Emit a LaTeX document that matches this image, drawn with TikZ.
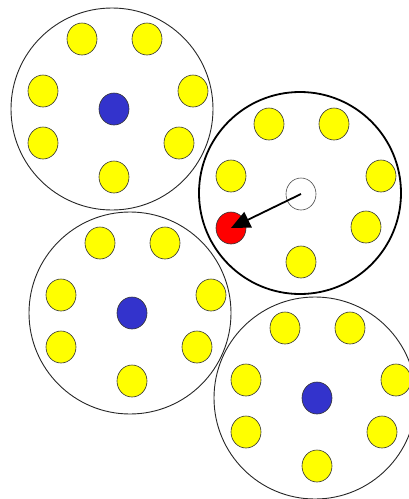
\documentclass[tikz,border=0pt]{standalone}
\usetikzlibrary{shapes.geometric,arrows.meta}
\definecolor{dotyellow}{RGB}{255,255,0}
\definecolor{dotblue}{RGB}{51,51,204}
\definecolor{dotred}{RGB}{255,0,0}
\tikzset{
  ring/.style={circle,draw=black!85,line width=0.9pt,minimum size=202pt,inner sep=0pt},
  thickring/.style={circle,draw=black,line width=1.8pt,minimum size=202pt,inner sep=0pt},
  dot/.style={ellipse,draw=black!80,line width=0.6pt,minimum width=30pt,minimum height=32pt,inner sep=0pt},
  yel/.style={dot,fill=dotyellow},
  bluedot/.style={dot,fill=dotblue},
  reddot/.style={dot,fill=dotred},
  hollow/.style={dot,fill=white,draw=black!70},
  movearrow/.style={-{Triangle[length=19pt,width=17pt]},line width=1.8pt}
}
\begin{document}
\begin{tikzpicture}[x=1pt,y=-1pt]
\useasboundingbox (0,0) rectangle (409,499);
\clip (0,0) rectangle (409,499);
% three ordinary cells
\foreach \n/\bx/\by in {a/114/109, c/132/313, d/317/398} {
  \node[ring] (\n-ring) at ({\bx-2},{\by}) {};
  \node[bluedot] (\n-c) at (\bx,\by) {};
  \foreach \i/\dx/\dy in {1/-32/-70, 2/33/-70, 3/-71/-18, 4/79/-18, 5/-71/34, 6/65/34, 7/0/68} {
    \node[yel] (\n-\i) at ({\bx+\dx},{\by+\dy}) {};
  }
}
% highlighted cell
\node[thickring] (b-ring) at (300,193) {};
\node[hollow] (b-c) at (301,194) {};
\foreach \i/\dx/\dy in {1/-32/-70, 2/33/-70, 3/-70/-18, 4/80/-18, 6/65/33, 7/0/68} {
  \node[yel] (b-\i) at ({301+\dx},{194+\dy}) {};
}
\node[reddot] (b-r) at (231,228) {};
\draw[movearrow] (b-c.center) -- (b-r.center);
\end{tikzpicture}
\end{document}
